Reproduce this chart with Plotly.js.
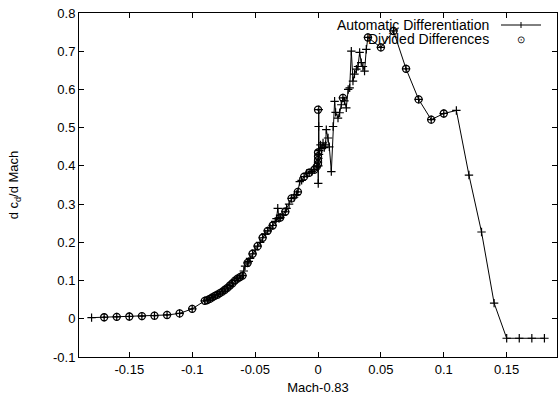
<!DOCTYPE html>
<html>
<head>
<meta charset="utf-8">
<script src="https://cdn.plot.ly/plotly-3.0.1.min.js"></script>
<style>html,body{margin:0;padding:0;background:#fff;}#chart{width:558px;height:400px;}</style>
</head>
<body>
<div id="chart"></div>
<script>
// Automatic Differentiation series
const adX = [-0.18,-0.17,-0.16,-0.15,-0.14,-0.13,-0.12,-0.11,-0.10,-0.09,
  -0.088,-0.086,-0.084,-0.082,-0.080,-0.078,-0.076,-0.074,-0.072,-0.070,
  -0.068,-0.066,-0.064,-0.062,-0.060,-0.059,-0.058,-0.056,-0.055,-0.054,
  -0.052,-0.050,-0.048,-0.046,-0.044,-0.042,-0.040,-0.038,-0.036,-0.034,
  -0.033,-0.032,-0.031,-0.030,-0.028,-0.026,-0.025,-0.023,-0.021,-0.019,
  -0.017,-0.016,-0.0145,-0.013,-0.011,-0.009,-0.007,-0.005,-0.003,-0.001,
  0.000,0.0002,0.0003,0.0004,0.0005,0.0006,0.0008,0.001,0.002,0.003,0.004,0.005,
  0.006,0.0066,0.008,0.009,0.0106,0.012,0.0132,0.014,0.0159,0.0172,
  0.0185,0.0198,0.021,0.0225,0.024,0.0252,0.0265,0.0278,0.029,0.0305,
  0.0318,0.0331,0.0344,0.0357,0.037,0.0384,0.0397,0.05,0.06,0.07,
  0.08,0.09,0.10,0.11,0.12,0.13,0.14,0.15,0.16,0.17,0.18];
const adY = [0.003,0.004,0.005,0.006,0.007,0.008,0.010,0.014,0.026,0.047,
  0.049,0.052,0.056,0.060,0.063,0.067,0.071,0.076,0.081,0.087,
  0.093,0.100,0.105,0.109,0.113,0.125,0.138,0.146,0.150,0.158,
  0.170,0.180,0.190,0.200,0.212,0.222,0.230,0.237,0.244,0.255,
  0.262,0.289,0.262,0.265,0.272,0.280,0.289,0.300,0.315,0.318,
  0.325,0.332,0.359,0.362,0.372,0.380,0.382,0.385,0.390,0.398,
  0.410,0.354,0.400,0.420,0.503,0.547,0.430,0.440,0.455,0.445,0.460,0.448,
  0.455,0.495,0.473,0.450,0.385,0.503,0.569,0.540,0.525,0.539,
  0.560,0.578,0.570,0.552,0.600,0.604,0.700,0.622,0.640,0.653,
  0.660,0.697,0.670,0.660,0.648,0.705,0.736,0.710,0.753,0.654,
  0.574,0.521,0.537,0.545,0.376,0.227,0.041,-0.051,-0.051,-0.051,-0.051];

// Divided Differences series
const ddX = [-0.17,-0.16,-0.15,-0.14,-0.13,-0.12,-0.11,-0.10,-0.09,
  -0.088,-0.086,-0.084,-0.082,-0.080,-0.078,-0.076,-0.074,-0.072,-0.070,
  -0.068,-0.066,-0.064,-0.062,-0.060,-0.056,-0.052,-0.048,-0.044,-0.040,
  -0.036,-0.030,-0.026,-0.021,-0.016,-0.011,-0.007,-0.003,-0.001,
  0.0,0.0,0.0,0.0,0.0,0.0198,0.0397,0.05,0.06,0.07,0.08,0.09,0.10];
const ddY = [0.004,0.005,0.006,0.007,0.008,0.010,0.014,0.026,0.047,
  0.049,0.052,0.056,0.060,0.063,0.067,0.071,0.076,0.081,0.087,
  0.093,0.100,0.105,0.109,0.113,0.146,0.170,0.190,0.212,0.230,
  0.244,0.265,0.280,0.315,0.332,0.372,0.382,0.390,0.398,
  0.405,0.415,0.425,0.435,0.547,0.578,0.736,0.710,0.753,0.654,0.574,0.521,0.537];

const xTicks = [-0.15,-0.1,-0.05,0,0.05,0.1,0.15];
const xTickText = ['-0.15','-0.1','-0.05','0','0.05','0.1','0.15'];
const yTicks = [-0.1,0,0.1,0.2,0.3,0.4,0.5,0.6,0.7,0.8];
const yTickText = ['-0.1','0','0.1','0.2','0.3','0.4','0.5','0.6','0.7','0.8'];

const FONT = 'Liberation Sans, Arial, sans-serif';

const traces = [
  {x: adX, y: adY, type: 'scatter', mode: 'lines+markers', name: 'Automatic Differentiation',
   line: {color: '#000', width: 1},
   marker: {symbol: 'cross-thin-open', size: 6, color: '#000', line: {color: '#000', width: 1.2}}},
  {x: ddX, y: ddY, type: 'scatter', mode: 'markers', name: 'Divided Differences',
   marker: {symbol: 'circle-open-dot', size: 7, color: '#000', line: {color: '#000', width: 1.3}}}
];

const layout = {
  width: 558, height: 400,
  margin: {l: 79, r: 1, t: 13, b: 43},
  paper_bgcolor: '#fff', plot_bgcolor: '#fff',
  showlegend: false,
  font: {family: FONT, size: 13, color: '#000'},
  xaxis: {range: [-0.19, 0.19], tickvals: xTicks, ticktext: xTickText,
    ticks: 'inside', ticklen: 5, tickcolor: '#000', showline: true, linecolor: '#000', linewidth: 1,
    mirror: 'ticks', showgrid: false, zeroline: false,
    title: {text: 'Mach-0.83', font: {size: 13}, standoff: 7}},
  yaxis: {range: [-0.1, 0.8], tickvals: yTicks, ticktext: yTickText,
    ticks: 'inside', ticklen: 5, tickcolor: '#000', showline: true, linecolor: '#000', linewidth: 1,
    mirror: 'ticks', showgrid: false, zeroline: false,
    title: {text: 'd c<sub>d</sub>/d Mach', font: {size: 13}, standoff: 31}},
  annotations: [
    {xref: 'paper', yref: 'paper', x: (491-79)/478, y: (357-25)/344, xanchor: 'right', yanchor: 'middle',
     text: 'Automatic Differentiation', showarrow: false, font: {size: 14}},
    {xref: 'paper', yref: 'paper', x: (491-79)/478, y: (357-39)/344, xanchor: 'right', yanchor: 'middle',
     text: 'Divided Differences', showarrow: false, font: {size: 14}},
    {xref: 'paper', yref: 'paper', x: (521-79)/478, y: (357-39)/344, xanchor: 'center', yanchor: 'middle',
     text: '⊙', showarrow: false, font: {size: 10}}
  ],
  shapes: [
    {type: 'line', xref: 'paper', yref: 'paper', x0: (501-79)/478, x1: (541-79)/478,
     y0: (357-25)/344, y1: (357-25)/344, line: {color: '#000', width: 1}},
    {type: 'line', xref: 'paper', yref: 'paper', x0: (521-79)/478, x1: (521-79)/478,
     y0: (357-22)/344, y1: (357-28)/344, line: {color: '#000', width: 1}}
  ]
};

Plotly.newPlot('chart', traces, layout, {displayModeBar: false, staticPlot: true});
</script>
</body>
</html>
